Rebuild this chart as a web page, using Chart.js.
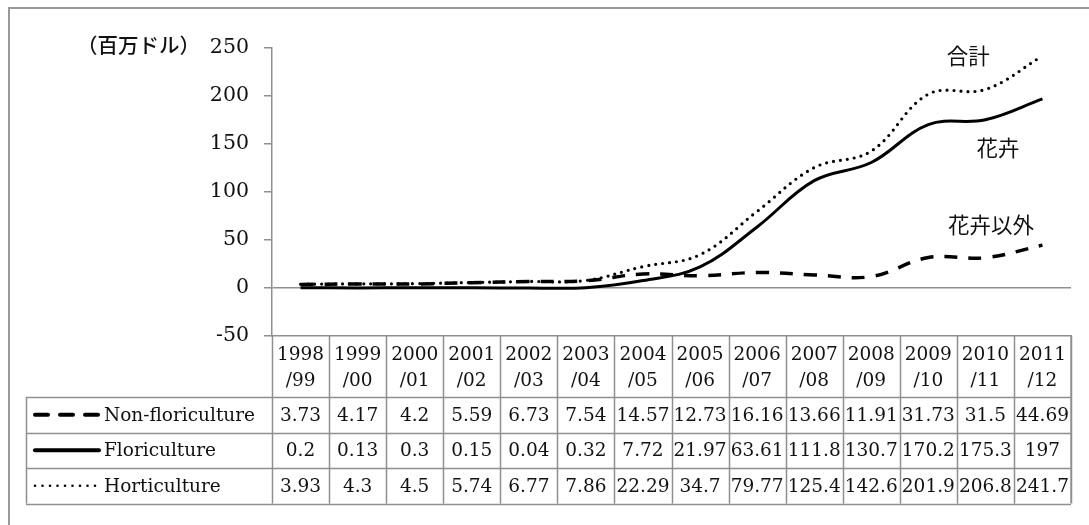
<!DOCTYPE html>
<html>
<head>
<meta charset="utf-8">
<script src="https://cdn.jsdelivr.net/npm/chart.js@4.4.1/dist/chart.umd.min.js"></script>
<style>
html,body{margin:0;padding:0;background:#fff;}
#wrap{position:relative;width:1089px;height:525px;overflow:hidden;}
</style>
</head>
<body>
<div id="wrap"><canvas id="c" width="1089" height="525"></canvas></div>
<script>
const categories = ['1998/99','1999/00','2000/01','2001/02','2002/03','2003/04','2004/05','2005/06','2006/07','2007/08','2008/09','2009/10','2010/11','2011/12'];
const seriesNames = ['Non-floriculture','Floriculture','Horticulture'];
const nonFloriculture = [3.73,4.17,4.2,5.59,6.73,7.54,14.57,12.73,16.16,13.66,11.91,31.73,31.5,44.69];
const floriculture = [0.2,0.13,0.3,0.15,0.04,0.32,7.72,21.97,63.61,111.8,130.7,170.2,175.3,197];
const horticulture = [3.93,4.3,4.5,5.74,6.77,7.86,22.29,34.7,79.77,125.4,142.6,201.9,206.8,241.7];
const yTicks = [-50,0,50,100,150,200,250];
const unitLabel = '（百万ドル）';
const annoTexts = ['合計','花卉','花卉以外'];

const SERIF = '"DejaVu Serif", serif';
const CJK = '"Noto Sans CJK JP", sans-serif';
const TXT = '#111';
const GRID = '#8f8f8f';

const series = [nonFloriculture, floriculture, horticulture];
const dashes = [[13,11],[],[0,7]];
const widths = [3.5,3,3.2];
const caps = ['butt','butt','round'];

const tablePlugin = {
  id:'tablePlugin',
  beforeDraw(chart){
    const ctx = chart.ctx;
    ctx.save();
    ctx.fillStyle='#fff';
    ctx.fillRect(0,0,chart.width,chart.height);
    ctx.strokeStyle='#999';
    ctx.lineWidth=2;
    ctx.strokeRect(9,8,1200,700);
    ctx.restore();
  },
  afterDraw(chart){
    const ctx = chart.ctx;
    const xs = chart.scales.x, ys = chart.scales.y;
    const area = chart.chartArea;
    const n = categories.length;
    const colW = (area.right-area.left)/n;
    const top = area.bottom;
    const headerBottom = top + 61;
    const rowH = 35.5;
    const tableLeft = 26;
    const tableBottom = headerBottom + rowH*3;
    ctx.save();
    ctx.strokeStyle = GRID;
    ctx.lineWidth = 1.5;
    ctx.beginPath();
    for(let i=0;i<=n;i++){
      const x = Math.round(area.left + colW*i)+0.5;
      ctx.moveTo(x, top); ctx.lineTo(x, tableBottom);
    }
    ctx.moveTo(area.right, top); ctx.lineTo(area.right, tableBottom);
    for(let r=0;r<=3;r++){
      const y = Math.round(headerBottom + rowH*r)+0.5;
      ctx.moveTo(tableLeft, y); ctx.lineTo(area.right, y);
    }
    ctx.moveTo(tableLeft+0.5, headerBottom); ctx.lineTo(tableLeft+0.5, tableBottom);
    ctx.stroke();
    ctx.fillStyle = TXT;
    ctx.font = '18.5px ' + SERIF;
    ctx.textAlign='center';
    ctx.textBaseline='middle';
    categories.forEach((c,i)=>{
      const x = xs.getPixelForValue(i);
      const parts = c.split('/');
      ctx.fillText(parts[0], x, top+19);
      ctx.fillText('/'+parts[1], x, top+45);
    });
    series.forEach((arr,r)=>{
      const yc = headerBottom + rowH*r + rowH/2 + 1;
      arr.forEach((v,i)=>{
        ctx.fillText(String(v), xs.getPixelForValue(i), yc);
      });
      ctx.save();
      ctx.strokeStyle='#000';
      ctx.lineWidth = r===2 ? 2.6 : 4;
      ctx.lineCap = 'round';
      ctx.setLineDash(r===0?[13,12]:(r===2?[0,7.5]:[]));
      ctx.beginPath();
      ctx.moveTo(35, yc-1); ctx.lineTo(99, yc-1);
      ctx.stroke();
      ctx.restore();
      ctx.textAlign='left';
      ctx.fillText(seriesNames[r], 104, yc);
      ctx.textAlign='center';
    });
    ctx.font = '500 20.5px ' + CJK;
    ctx.textAlign='right';
    ctx.fillText(unitLabel, 200, ys.getPixelForValue(250)-3);
    ctx.font = '21.5px ' + CJK;
    ctx.textAlign='center';
    ctx.fillText(annoTexts[0], xs.getPixelForValue(11.7), ys.getPixelForValue(242));
    ctx.fillText(annoTexts[1], xs.getPixelForValue(12.22), ys.getPixelForValue(146));
    ctx.fillText(annoTexts[2], xs.getPixelForValue(12.1), ys.getPixelForValue(66));
    ctx.restore();
  }
};

new Chart(document.getElementById('c'), {
  type:'line',
  data:{
    labels: categories,
    datasets: series.map((arr,i)=>({
      label: seriesNames[i],
      data: arr,
      borderColor:'#000',
      borderWidth: widths[i],
      borderDash: dashes[i],
      borderCapStyle: caps[i],
      pointRadius:0,
      fill:false,
      tension:0.38
    }))
  },
  options:{
    responsive:false,
    animation:false,
    devicePixelRatio:1,
    layout:{padding:{left:0,right:18,top:48,bottom:189}},
    plugins:{legend:{display:false},tooltip:{enabled:false}},
    scales:{
      x:{
        offset:true,
        ticks:{display:false},
        grid:{display:false, drawTicks:false},
        border:{display:true,color:GRID,width:1.5}
      },
      y:{
        min:-50,max:250,
        afterBuildTicks(scale){ scale.ticks = yTicks.map(v=>({value:v})); },
        afterFit(scale){ scale.width = 272; },
        ticks:{font:{family:SERIF,size:20.5},color:TXT,padding:15},
        grid:{
          color:(c)=> c.tick && c.tick.value===0 ? GRID : 'rgba(0,0,0,0)',
          tickColor:GRID,
          tickLength:8,
          lineWidth:1.5
        },
        border:{display:true,color:GRID,width:1.5}
      }
    }
  },
  plugins:[tablePlugin]
});
</script>
</body>
</html>
